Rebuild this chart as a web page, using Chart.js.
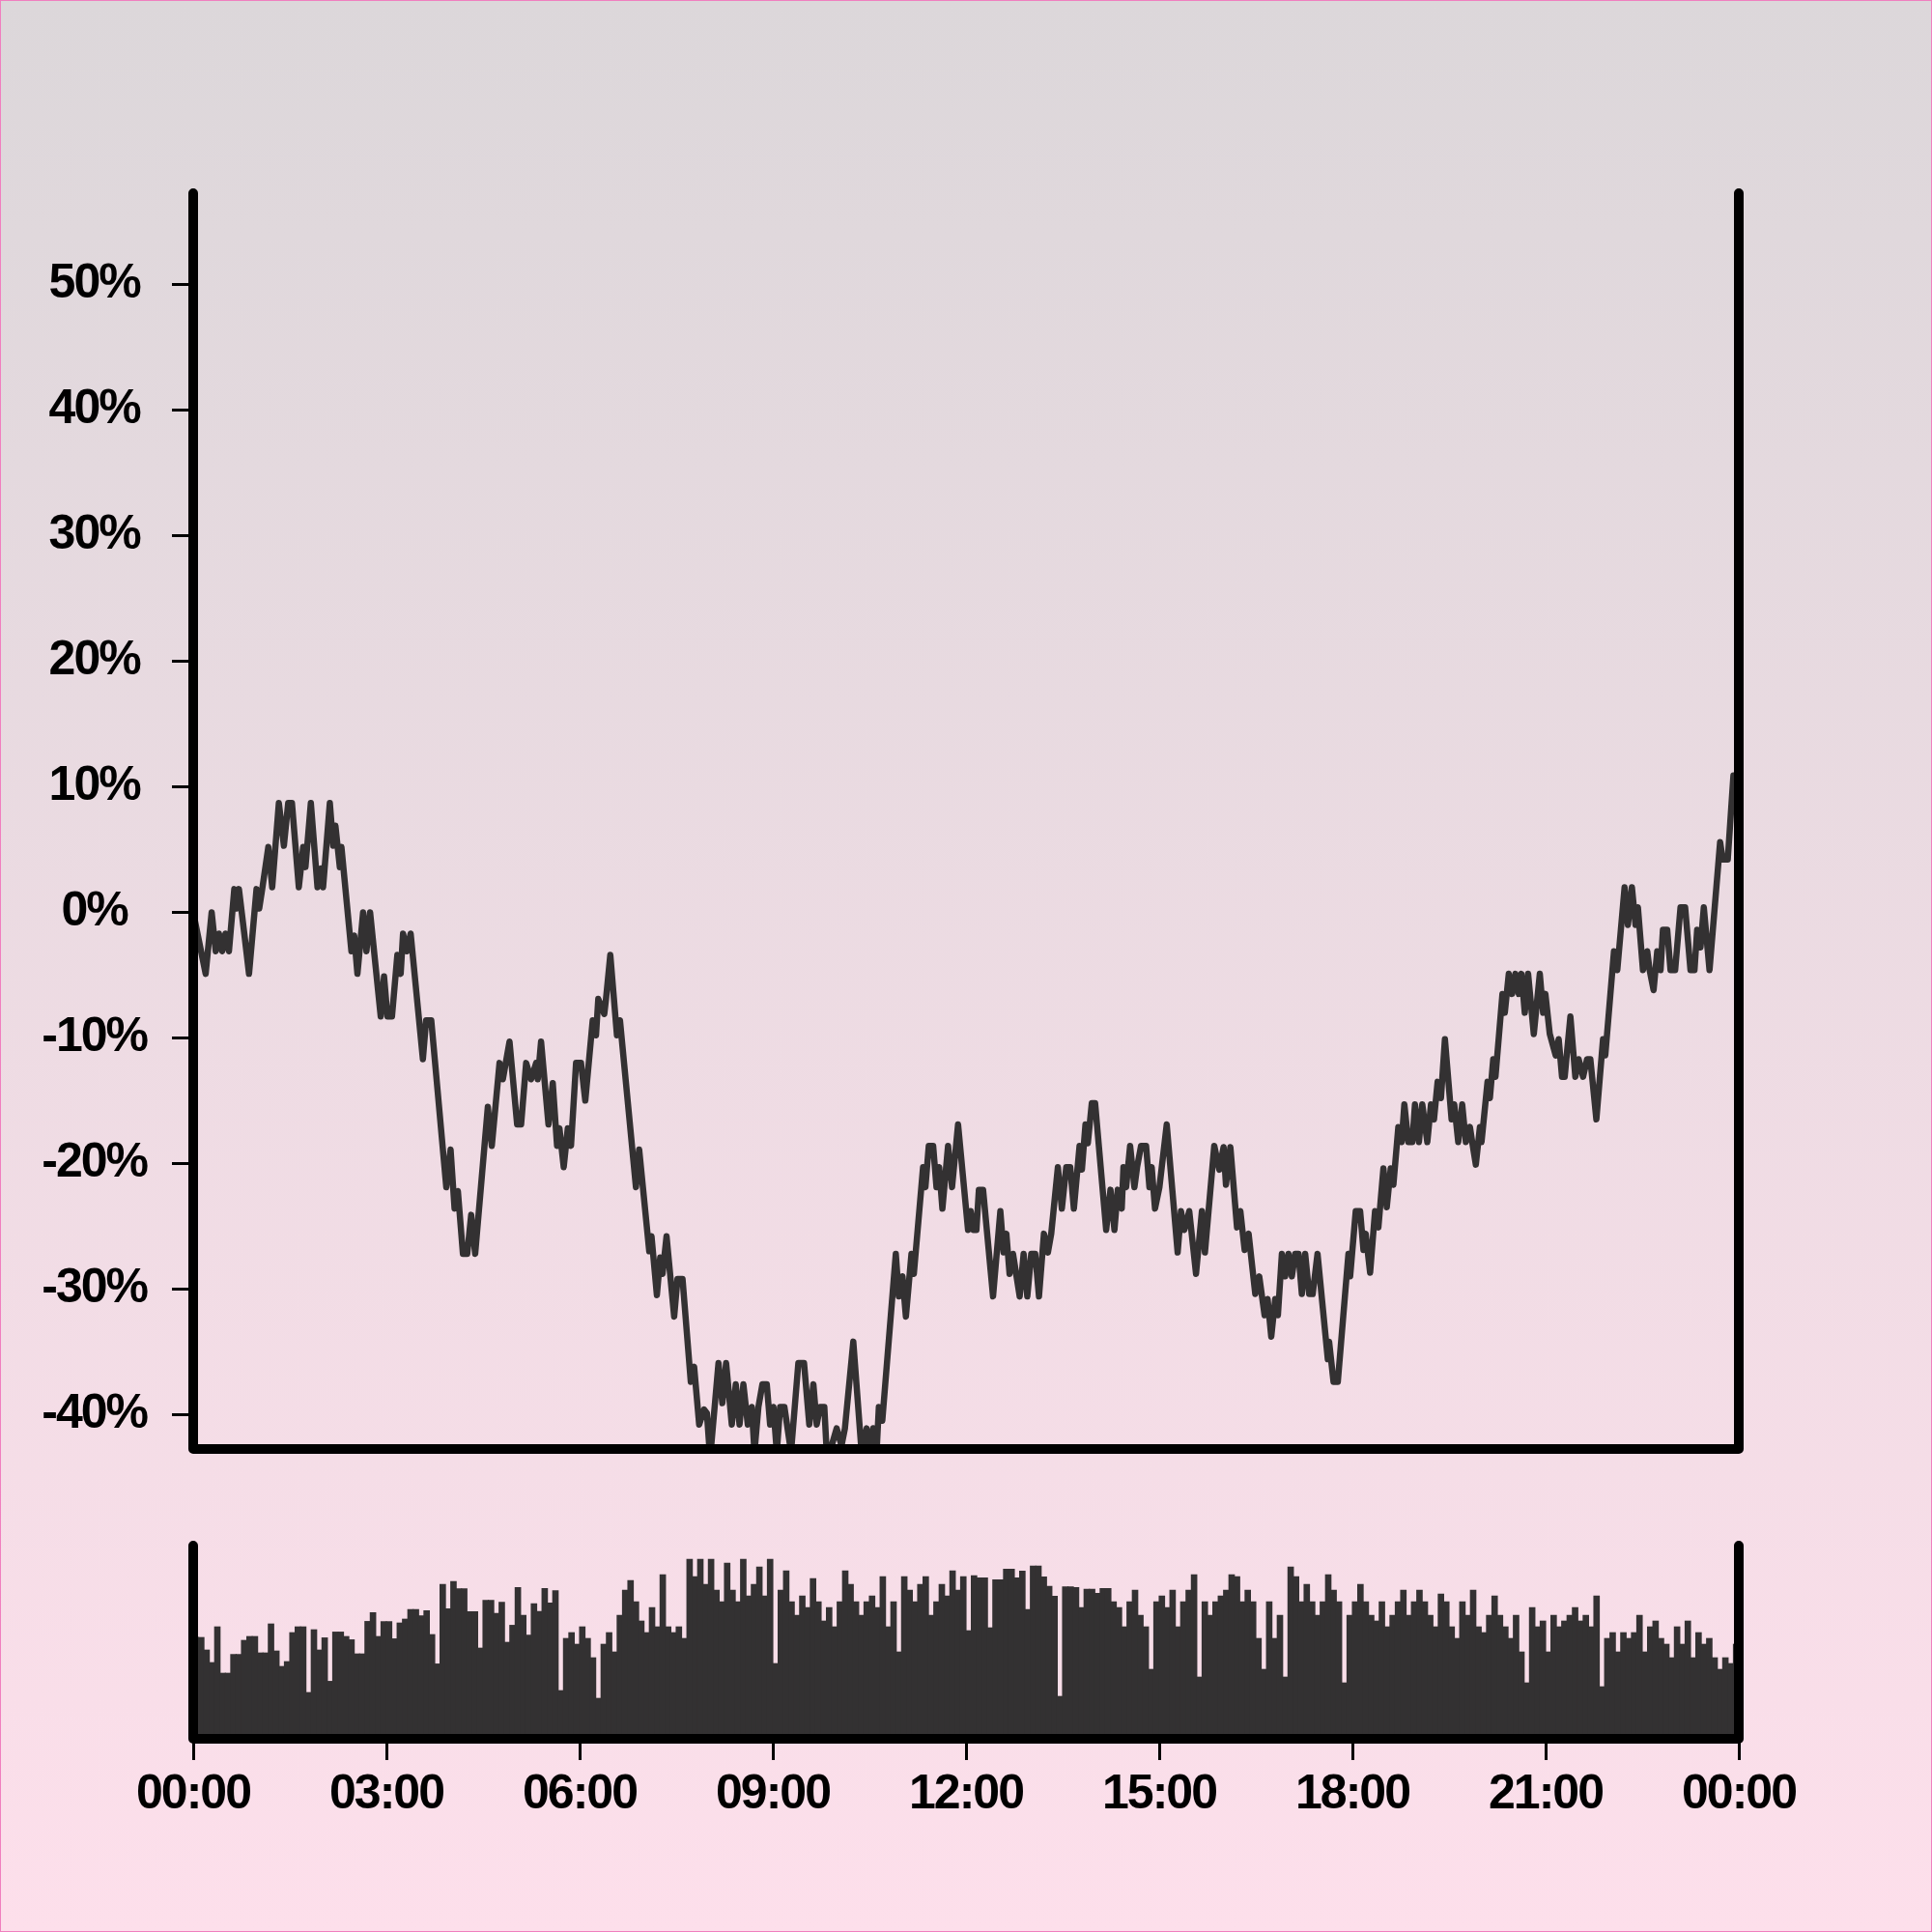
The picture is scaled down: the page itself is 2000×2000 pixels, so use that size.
<!DOCTYPE html>
<html>
<head>
<meta charset="utf-8">
<script src="https://cdn.jsdelivr.net/npm/chart.js@4.4.1/dist/chart.umd.min.js"></script>
<style>
  html, body { margin: 0; padding: 0; }
  #page { position: relative; width: 2000px; height: 2000px; overflow: hidden;
          background: linear-gradient(to bottom, #dcd7da 0%, #fddfeb 100%); }
  #price { position: absolute; left: 0; top: 0; }
  #volume { position: absolute; left: 0; top: 1560px; }
  #edge { position: absolute; left: 0; top: 0; width: 2000px; height: 2000px;
          box-sizing: border-box; border: 1px solid #f07fbf; pointer-events: none; }
</style>
</head>
<body>
<div id="page">
  <canvas id="price" width="2000" height="1600"></canvas>
  <canvas id="volume" width="2000" height="440"></canvas>
  <div id="edge"></div>
</div>
<script>
// ---- data ----
// price line: time of day (minutes) and change in %
const lineMinutes = [
  0, 11.6, 17.2, 21, 24, 27, 30, 33.3, 38.3, 40.5, 42.6, 47.6, 49.8, 52, 59, 61.5, 64.3, 70, 73.6, 79.8,
  84.5, 88.5, 92, 98.4, 102.5, 104.6, 109.6, 115.8, 119, 121, 127.3, 130.4, 132.5, 136.6, 138.1, 147.4, 150, 153, 158.3, 161.4,
  164.8, 174.7, 177.8, 181, 185.2, 190.2, 193.3, 195.5, 199, 202.6, 214, 217, 221.8, 235.8, 239.8, 243.5, 246.6, 251.3, 255.3, 259,
  262.7, 274.5, 278.2, 285.4, 288.5, 294.7, 301.8, 305.5, 310.2, 314.8, 319.5, 321, 324.1, 331, 335, 339, 341.2, 345.2, 349, 352,
  356.7, 361.3, 365.3, 372.2, 375.3, 377.4, 383, 384.6, 388.6, 394.8, 397.6, 412.5, 415.5, 424.9, 427, 432, 435.1, 437.3, 441, 448.1,
  451.2, 455.9, 463.6, 466.7, 471.4, 476, 478.6, 481.6, 489.4, 493, 496.5, 501.8, 505.5, 509, 512.6, 516.7, 520.4, 522.9, 526.6, 530.3,
  534.4, 537.5, 540.6, 543.7, 546.8, 550.8, 557, 563.8, 569.1, 574, 577.8, 580.9, 584, 588, 590.2, 594.8, 599.5, 604, 607.2, 615,
  622.7, 627.4, 630.5, 633.6, 636.7, 638.8, 642, 654.6, 657.4, 660.8, 664, 669.2, 671.4, 680, 682.2, 685.3, 689.4, 692.5, 695, 698,
  703.3, 707, 712.6, 721.9, 724.4, 726.9, 729.7, 732, 735.9, 745.2, 752, 755, 757.6, 760.6, 763.8, 770, 773.7, 777.1, 780.8, 784.5,
  788, 792.6, 796.3, 799.4, 805.6, 809.3, 813.4, 817.1, 820.5, 825.8, 828, 831.3, 833.5, 837.2, 840.3, 850.6, 854.6, 858.3, 861.4, 865.1,
  866.7, 869.2, 872.9, 876.9, 879.4, 883.1, 887.8, 890.9, 893, 896.1, 900.2, 907, 917.2, 920.3, 923.4, 928, 934.3, 939.8, 942.6, 951.3,
  956, 960, 962.2, 966.3, 972.5, 975.6, 979.6, 983.3, 989.5, 993.2, 998.2, 1001, 1004.4, 1008.1, 1010.6, 1014.3, 1017.4, 1020.5, 1023.6, 1026.7,
  1029.8, 1032.9, 1036, 1039.7, 1043, 1047.5, 1057.1, 1058.3, 1062.4, 1066.4, 1076.3, 1077.9, 1083.1, 1087.2, 1090.3, 1092.4, 1096.5, 1101.1, 1104.2, 1108.9,
  1112, 1115.7, 1118.2, 1122.8, 1125.9, 1128.4, 1132.1, 1135.8, 1138.3, 1142, 1145.1, 1149.8, 1153.2, 1156, 1159.4, 1162.5, 1166.2, 1172.4, 1174.9, 1178.6,
  1182.3, 1185.7, 1189.5, 1191.6, 1195, 1198.8, 1200.3, 1205.9, 1208.1, 1211.2, 1213.3, 1219.8, 1222, 1225.7, 1228.8, 1231.9, 1235, 1237.5, 1240.6, 1243.7,
  1249, 1254.6, 1257.7, 1259.8, 1263.9, 1269.4, 1272.2, 1275.3, 1277.8, 1283.1, 1287.7, 1290.8, 1294.9, 1298.6, 1301.7, 1307.3, 1313.5, 1315.6, 1323.7, 1326.8,
  1333.6, 1336.7, 1340.4, 1343.8, 1346, 1350.7, 1354.7, 1356.9, 1360.6, 1364, 1367.1, 1369.3, 1373.3, 1376.4, 1380.7, 1385.7, 1390, 1395, 1398.7, 1401.2,
  1404.3, 1407.4, 1412.7, 1422.6, 1425, 1429.7, 1435
];
const linePct = [
  0, -4.9, 0, -3.1, -1.7, -3.1, -1.7, -3.1, 1.85, 0.3, 1.85, -1.7, -3.3, -4.9, 1.85, 0.3, 1.85, 5.2, 2.0, 8.7,
  5.3, 8.7, 8.7, 2.0, 5.2, 3.6, 8.7, 2.0, 3.5, 2.0, 8.7, 5.3, 6.9, 3.6, 5.2, -3.1, -1.85, -4.9, 0, -3.1,
  0, -8.3, -5.1, -8.3, -8.3, -3.4, -4.9, -1.7, -3.1, -1.7, -11.7, -8.6, -8.6, -21.9, -18.9, -23.6, -22.2, -27.2, -27.2, -24.1,
  -27.2, -15.5, -18.6, -12.0, -13.3, -10.3, -16.9, -16.9, -12.0, -13.3, -12.0, -13.3, -10.3, -16.9, -13.6, -18.6, -17.2, -20.3, -17.2, -18.6,
  -12.0, -12.0, -15.0, -8.6, -9.8, -6.9, -8.1, -6.9, -3.4, -9.8, -8.6, -21.9, -18.9, -27.0, -25.8, -30.5, -27.5, -28.8, -25.8, -32.2,
  -29.2, -29.2, -37.4, -36.2, -40.8, -39.6, -39.9, -43.5, -35.9, -39.1, -35.9, -40.8, -37.6, -40.8, -37.6, -40.8, -39.4, -43, -39.4, -37.6,
  -37.6, -40.8, -39.4, -43, -39.4, -39.4, -43, -35.9, -35.9, -40.8, -37.6, -40.8, -39.4, -39.4, -43, -42.5, -41.1, -42.5, -41.1, -34.2,
  -43, -41.1, -43, -41.1, -43, -39.4, -40.5, -27.2, -30.6, -29.0, -32.2, -27.2, -28.8, -20.3, -21.9, -18.6, -18.6, -21.9, -20.3, -23.6,
  -18.6, -21.9, -16.9, -25.3, -23.8, -25.3, -25.3, -22.1, -22.1, -30.6, -23.8, -27.1, -25.6, -28.8, -27.2, -30.6, -27.2, -30.6, -27.2, -27.2,
  -30.6, -25.6, -27.1, -25.6, -20.3, -23.6, -20.3, -20.3, -23.6, -18.6, -20.5, -16.9, -18.4, -15.2, -15.2, -25.3, -22.1, -25.3, -22.1, -23.6,
  -20.3, -21.9, -18.6, -21.9, -20.3, -18.6, -18.6, -21.9, -20.3, -23.6, -21.9, -16.9, -27.1, -23.8, -25.3, -23.8, -28.8, -23.8, -27.1, -18.6,
  -20.5, -18.7, -21.7, -18.7, -25.1, -23.8, -26.9, -25.6, -30.4, -29.0, -32.1, -30.8, -33.8, -30.8, -32.1, -27.2, -29.0, -27.2, -29.0, -27.2,
  -27.2, -30.4, -27.2, -30.4, -30.4, -27.2, -35.6, -34.2, -37.4, -37.4, -27.2, -29.0, -23.8, -23.8, -26.9, -25.6, -28.7, -23.8, -25.1, -20.4,
  -23.5, -20.4, -21.7, -17.1, -18.3, -15.3, -18.3, -18.3, -15.3, -18.3, -15.3, -18.3, -15.3, -16.5, -13.5, -14.8, -10.1, -16.5, -15.3, -18.3,
  -15.3, -18.3, -17.1, -18.3, -20.1, -17.1, -18.3, -13.5, -14.8, -11.7, -13.1, -6.5, -8.0, -4.9, -6.5, -4.9, -6.5, -4.9, -8.0, -4.9,
  -9.7, -4.9, -8.0, -6.5, -9.7, -11.4, -10.1, -13.1, -13.1, -8.3, -13.1, -11.7, -13.1, -11.7, -11.7, -16.5, -10.1, -11.4, -3.1, -4.6,
  2.0, -1.0, 2.0, -1.0, 0.4, -4.6, -3.1, -4.6, -6.2, -3.1, -4.6, -1.4, -1.4, -4.6, -4.6, 0.4, 0.4, -4.6, -4.6, -1.4,
  -2.8, 0.4, -4.6, 5.6, 4.2, 4.2, 10.9
];

// volume per 5-minute slot, as % of the lower panel height
const volume = [
  52.5, 52.5, 46, 39.5, 58, 34, 34, 43.7, 43.7, 51, 53, 53, 44.5, 44.5, 59.5, 45.5, 37.5, 40, 55, 58,
  58, 24, 56.5, 46, 52.3, 29.8, 55.3, 55.3, 53, 51.3, 44, 44, 60.8, 65.3, 53, 60.7, 60.7, 51.8, 60, 62,
  67, 67, 63.7, 66.3, 54, 38.8, 80, 67.3, 81.5, 77.7, 77.7, 65.8, 65.8, 47, 71.7, 71.7, 65, 70.7, 50, 58.8,
  78.3, 64, 53.7, 70, 66, 77.8, 70.3, 76.7, 25, 52, 55, 49, 58, 52, 42, 21, 49, 55, 45, 64,
  77, 82, 71, 61, 55, 68, 58, 85, 58, 55, 58, 52, 93, 84, 93, 80, 93, 77, 71, 91,
  77, 71, 93, 74, 80, 89, 74, 93, 39, 77, 87, 71, 64, 74, 68, 83, 71, 61, 68, 58,
  71, 87, 80, 71, 64, 71, 74, 68, 84, 58, 71, 45, 84, 77, 71, 80, 84, 64, 71, 80,
  74, 87, 77, 84, 56, 84.5, 83.3, 83.3, 57.5, 82.3, 82.3, 87.8, 87.8, 83.3, 86.8, 67, 89.5, 89.5, 83.8, 79,
  73.8, 22, 78.7, 78.7, 78.3, 68, 77.5, 77.5, 75.3, 77.8, 77.8, 71, 68, 58, 71, 77, 64, 58, 36, 71,
  74, 68, 77, 58, 71, 77, 85, 32, 71, 64, 71, 74, 77, 85, 84, 71, 77, 71, 52, 36,
  71, 52, 64, 32, 89, 84, 71, 80, 71, 64, 71, 85, 77, 71, 29, 64, 71, 80, 71, 64,
  61, 71, 58, 64, 71, 77, 64, 71, 77, 71, 64, 58, 75, 71, 58, 52, 71, 64, 77, 58,
  55, 64, 74, 64, 58, 52, 64, 45, 29, 68, 58, 61, 45, 64, 58, 61, 64, 68, 61, 64,
  58, 74, 27, 52, 55, 45, 55, 52, 55, 64, 45, 58, 61, 52, 49, 42, 58, 49, 61, 42,
  55, 49, 52, 42, 36, 42, 39, 49
];
const slotMinutes = 5;

const yTickValues = [-40, -30, -20, -10, 0, 10, 20, 30, 40, 50];
const xTickMinutes = [0, 180, 360, 540, 720, 900, 1080, 1260, 1440];
const xTickLabels = ['00:00', '03:00', '06:00', '09:00', '12:00', '15:00', '18:00', '21:00', '00:00'];

// ---- styling ----
const ink = '#333132';
const labelFont = { family: "'Liberation Sans', Arial, sans-serif", size: 50, weight: 'bold' };

// thick black frame (left, bottom, right) with rounded ends
const frame = {
  id: 'frame',
  beforeDraw(chart) {
    chart.ctx.letterSpacing = '-2px';
  },
  afterDatasetsDraw(chart) {
    const { ctx, chartArea: a } = chart;
    ctx.save();
    ctx.strokeStyle = '#000';
    ctx.lineWidth = 10;
    ctx.lineCap = 'round';
    ctx.lineJoin = 'round';
    ctx.beginPath();
    ctx.moveTo(a.left, a.top);
    ctx.lineTo(a.left, a.bottom);
    ctx.lineTo(a.right, a.bottom);
    ctx.lineTo(a.right, a.top);
    ctx.stroke();
    ctx.restore();
  }
};

///////////// price chart /////////////
new Chart(document.getElementById('price'), {
  type: 'line',
  data: {
    datasets: [{
      data: lineMinutes.map((m, i) => ({ x: m, y: linePct[i] })),
      borderColor: ink,
      borderWidth: 6.5,
      borderJoinStyle: 'round',
      borderCapStyle: 'round',
      pointRadius: 0,
      tension: 0
    }]
  },
  options: {
    responsive: false,
    animation: false,
    events: [],
    layout: { padding: { top: 200, bottom: 100, right: 200, left: 0 } },
    plugins: { legend: { display: false }, tooltip: { enabled: false } },
    scales: {
      x: { type: 'linear', min: 0, max: 1440, display: false },
      y: {
        min: -42.75,
        max: 57.28,
        afterFit: (s) => { s.width = 200; },
        afterBuildTicks: (s) => { s.ticks = yTickValues.map(v => ({ value: v })); },
        border: { display: false },
        grid: { drawOnChartArea: false, tickLength: 22, tickWidth: 3, tickColor: '#000' },
        ticks: { color: '#000', font: labelFont, padding: 22, crossAlign: 'center', callback: (v) => v + '%' }
      }
    }
  },
  plugins: [frame]
});

///////////// volume chart /////////////
new Chart(document.getElementById('volume'), {
  type: 'bar',
  data: {
    datasets: [{
      data: volume.map((v, i) => ({ x: (i + 0.5) * slotMinutes, y: v })),
      backgroundColor: ink,
      borderWidth: 0,
      barThickness: 6,
      grouped: false
    }]
  },
  options: {
    responsive: false,
    animation: false,
    events: [],
    layout: { padding: { top: 40, bottom: 0, left: 200, right: 200 } },
    plugins: { legend: { display: false }, tooltip: { enabled: false } },
    scales: {
      x: {
        type: 'linear',
        min: 0,
        max: 1440,
        offset: false,
        afterFit: (s) => { s.height = 200; },
        afterBuildTicks: (s) => { s.ticks = xTickMinutes.map(v => ({ value: v })); },
        border: { display: false },
        grid: { drawOnChartArea: false, tickLength: 22, tickWidth: 3, tickColor: '#000', offset: false },
        ticks: {
          color: '#000', font: labelFont, padding: 6, maxRotation: 0, autoSkip: false,
          callback: (v) => xTickLabels[xTickMinutes.indexOf(v)]
        }
      },
      y: { min: 0, max: 100, display: false }
    }
  },
  plugins: [frame]
});
</script>
</body>
</html>
